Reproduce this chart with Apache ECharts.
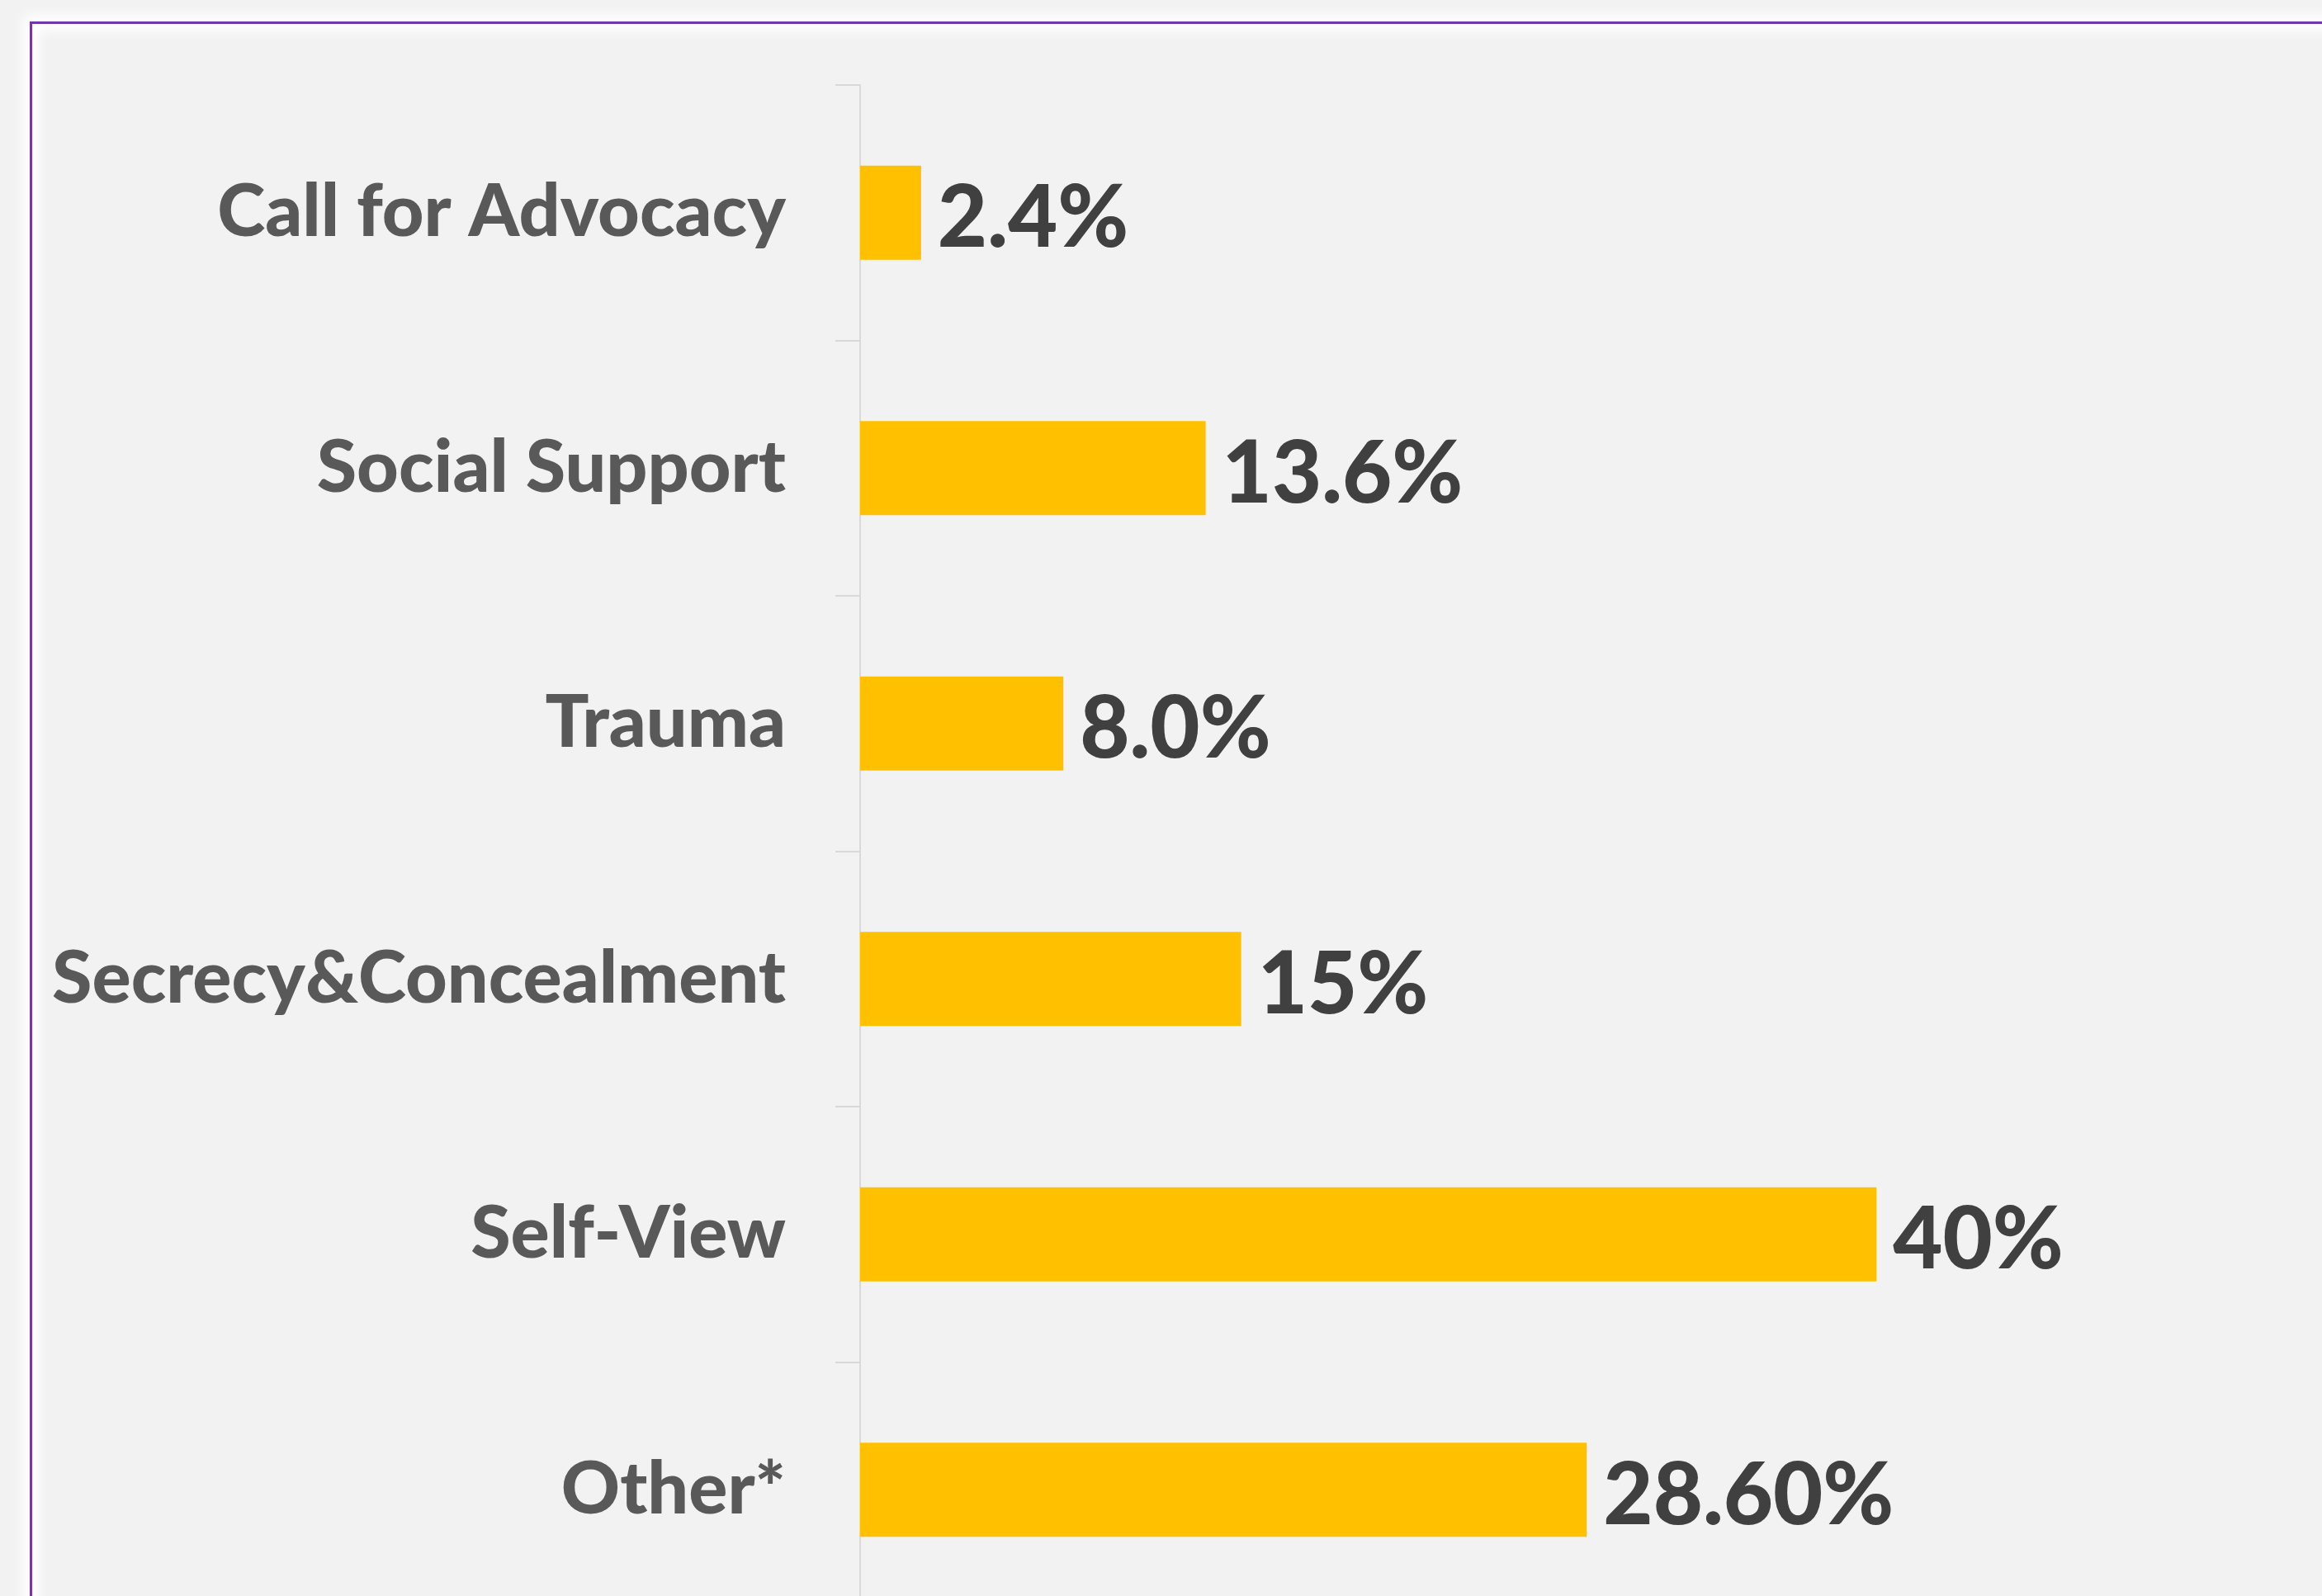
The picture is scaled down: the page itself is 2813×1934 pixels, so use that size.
<!DOCTYPE html>
<html>
<head>
<meta charset="utf-8">
<script src="https://cdn.jsdelivr.net/npm/echarts@6/dist/echarts.min.js"></script>
<style>
  html, body { margin: 0; padding: 0; background: #f2f2f2; overflow: hidden; }
  #chart { width: 2813px; height: 2000px; position: relative; }
  #frame {
    position: absolute; left: 36px; top: 26px; width: 2900px; height: 2100px;
    border-top: 3px solid #7435a8; border-left: 3px solid #7435a8;
    box-shadow: 0 0 14px 8px #ffffff, inset 0 0 14px 8px #ffffff;
    pointer-events: none; box-sizing: border-box;
  }
</style>
</head>
<body>
<div id="chart"></div>
<div id="frame"></div>
<script>
// Themes and their share of responses (%)
const categories = ['Call for Advocacy', 'Social Support', 'Trauma', 'Secrecy&Concealment', 'Self-View', 'Other*'];
const values = [2.4, 13.6, 8.0, 15, 40, 28.6];
const valueLabels = ['2.4%', '13.6%', '8.0%', '15%', '40%', '28.60%'];

const chart = echarts.init(document.getElementById('chart'), null, { renderer: 'canvas' });

chart.setOption({
  backgroundColor: 'transparent',
  animation: false,
  // the plot runs past the bottom edge of the page, so the last band is cut off
  grid: { left: 1042, top: 103, width: 1539, height: 1857, containLabel: false },
  xAxis: {
    type: 'value', min: 0, max: 50, show: false
  },
  yAxis: {
    type: 'category',
    data: categories,
    inverse: true,
    axisLine: { show: true, lineStyle: { color: '#d9d9d9', width: 2 } },
    axisTick: { show: true, length: 30, lineStyle: { color: '#d9d9d9', width: 2 } },
    axisLabel: {
      margin: 90,
      color: '#595959',
      fontFamily: 'Lato',
      fontWeight: 900,
      fontSize: 88
    },
    splitLine: { show: false }
  },
  series: [{
    type: 'bar',
    data: values,
    barWidth: 114,
    itemStyle: { color: '#ffc000' },
    label: {
      show: true,
      position: 'right',
      distance: 20,
      offset: [0, 8],
      color: '#404040',
      fontFamily: 'Lato',
      fontWeight: 900,
      fontSize: 104,
      formatter: p => valueLabels[p.dataIndex]
    }
  }]
});
</script>
</body>
</html>
